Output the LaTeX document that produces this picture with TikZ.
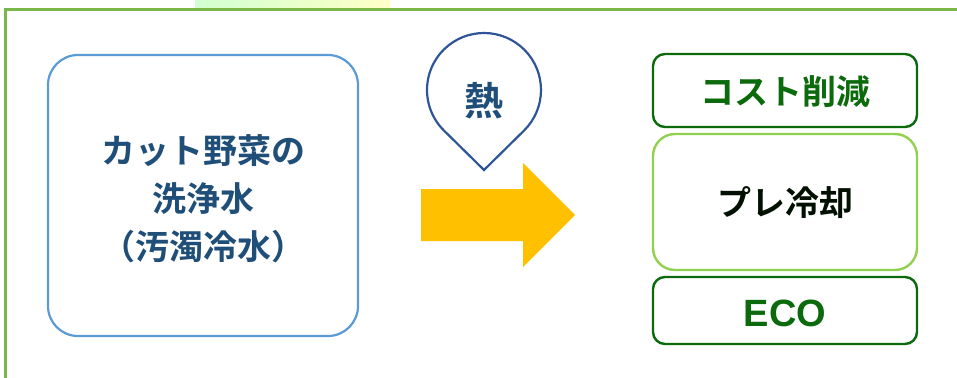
\documentclass[tikz,border=0pt]{standalone}
\usepackage{fontspec}
\setmainfont{Noto Sans CJK JP}[BoldFont={* Bold}]
\newfontfamily\latinfont{Liberation Sans}
\usepackage{tikz}
\usetikzlibrary{positioning,calc}
\definecolor{framegreen}{HTML}{7AB648}
\definecolor{srcblue}{HTML}{5B9BD5}
\definecolor{txtblue}{HTML}{1F4E79}
\definecolor{pinblue}{HTML}{2F5597}
\definecolor{arrowgold}{HTML}{FFC000}
\definecolor{darkgreen}{HTML}{0B6A0B}
\definecolor{lightgreen}{HTML}{92D050}

\begin{document}
\begin{tikzpicture}[x=1pt, y=-1pt,
    srcbox/.style={draw=srcblue, line width=2.2pt, rounded corners=30pt, fill=white},
    outbox/.style={draw=darkgreen, line width=2.4pt, rounded corners=12pt, fill=white},
    midbox/.style={draw=lightgreen, line width=2.4pt, rounded corners=22pt, fill=white},
    boxtext/.style={font=\bfseries\fontsize{34}{48}\selectfont, align=center}]
    \useasboundingbox (0, 0) rectangle (957, 377);

    % --- Background and outer frame ---
    \shade[left color=green!18!white, right color=yellow!22!white] (195, 0) rectangle (390, 10);
    \draw[framegreen, line width=3pt] (960, 10) -- (5, 10) -- (5, 380);

    % --- Source: washing water ---
    \draw[srcbox] (48, 55) rectangle (358, 336);
    \node[boxtext, text=txtblue] (src) at (203, 199) {カット野菜の\\洗浄水\\（汚濁冷水）};

    % --- Heat pin ---
    \coordinate (pinc) at (484, 90);
    \coordinate (tip) at (484, 170);
    \draw[pinblue, line width=2.2pt, line join=miter]
        (tip) -- ($(pinc)+(45.4:57)$) arc[start angle=45.4, end angle=-225.4, radius=57] -- cycle;
    \node[font=\bfseries\fontsize{39}{42}\selectfont, text=txtblue] (heat) at (484, 101) {熱};

    % --- Arrow ---
    \fill[arrowgold] (421, 189) -- (523, 189) -- (523, 163) -- (575, 215)
        -- (523, 267) -- (523, 241) -- (421, 241) -- cycle;

    % --- Results ---
    \draw[outbox] (653, 54) rectangle (917, 127);
    \node[boxtext, text=darkgreen] (cost) at (785, 92) {コスト削減};
    \draw[midbox] (653, 134) rectangle (917, 270);
    \node[boxtext, text=black!85!darkgreen] (pre) at (785, 203) {プレ冷却};
    \draw[outbox] (653, 277) rectangle (917, 344);
    \node[text=darkgreen, font=\latinfont\bfseries\fontsize{38}{40}\selectfont] (eco) at (785, 313) {ECO};
\end{tikzpicture}
\end{document}
